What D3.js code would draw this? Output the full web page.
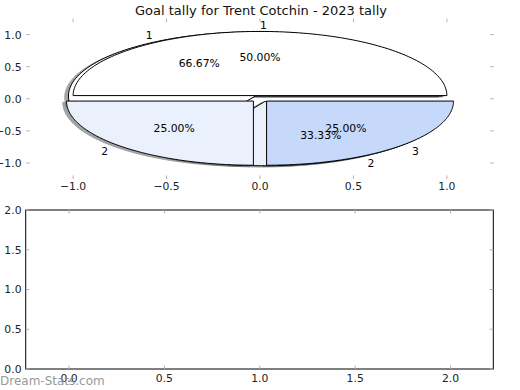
<!DOCTYPE html>
<html>
<head>
<meta charset="utf-8">
<script src="https://cdn.jsdelivr.net/npm/d3@7"></script>
<style>
  html, body { margin: 0; padding: 0; background: #ffffff; }
  svg { display: block; }
  text { font-family: "DejaVu Sans", sans-serif; }
</style>
</head>
<body>
<script>
// ---------------- data ----------------
const title = "Goal tally for Trent Cotchin - 2023 tally";
const pie1Labels = ["1", "2"];
const pie1Values = [2, 1];
const pie1Colors = ["#ffffff", "#eaf1fd"];
const pie2Labels = ["1", "2", "3"];
const pie2Values = [2, 1, 1];
const pie2Colors = ["#ffffff", "#eaf1fd", "#c6d9fb"];
const explodeAmount = 0.05;
const topTicks = [-1.0, -0.5, 0.0, 0.5, 1.0];
const bottomXTicks = [0.0, 0.5, 1.0, 1.5, 2.0];
const bottomYTicks = [0.0, 0.5, 1.0, 1.5, 2.0];
const watermark = "Dream-Stats.com";

// ---------------- layout ----------------
const W = 520, H = 390;
const svg = d3.select("body").append("svg").attr("width", W).attr("height", H);
const FS = 10.8;

// top (pie) axes
const topBox = { left: 26.4, right: 493.6, top: 18.6, bottom: 179.0 };
const x1 = d3.scaleLinear().domain([-1.25, 1.25]).range([topBox.left, topBox.right]);
const y1 = d3.scaleLinear().domain([-1.25, 1.25]).range([topBox.bottom, topBox.top]);

// bottom axes
const botBox = { left: 25.7, right: 493.3, top: 210, bottom: 369 };
const x2 = d3.scaleLinear().domain([-0.227, 2.224]).range([botBox.left, botBox.right]);
const y2 = d3.scaleLinear().domain([0, 2]).range([botBox.bottom, botBox.top]);

const tickColor = "#b0b0b0";
const labelColor = "#222";

// title
svg.append("text").attr("x", 261).attr("y", 15).attr("text-anchor", "middle")
  .attr("font-size", 13).attr("fill", "#111").text(title);

// ---------- pie helpers (matplotlib conventions: CCW from +x) ----------
function buildWedges(values, labels, colors) {
  const arcs = d3.pie().sort(null).startAngle(0).endAngle(2 * Math.PI)(values);
  const total = d3.sum(values);
  return arcs.map((a, i) => {
    const t1 = a.startAngle, t2 = a.endAngle;
    const tm = (t1 + t2) / 2;
    const cx = explodeAmount * Math.cos(tm), cy = explodeAmount * Math.sin(tm);
    return { t1, t2, tm, cx, cy, color: colors[i], label: labels[i],
             pct: (100 * values[i] / total).toFixed(2) + "%" };
  });
}
function wedgePath(w, ox, oy) {
  const pts = [[w.cx + ox, w.cy + oy]];
  const n = 120;
  for (let k = 0; k <= n; k++) {
    const t = w.t1 + (w.t2 - w.t1) * k / n;
    pts.push([w.cx + ox + Math.cos(t), w.cy + oy + Math.sin(t)]);
  }
  return d3.line().x(d => x1(d[0])).y(d => y1(d[1]))(pts) + "Z";
}

const pies = [
  buildWedges(pie1Values, pie1Labels, pie1Colors),
  buildWedges(pie2Values, pie2Labels, pie2Colors)
];

const gPie = svg.append("g");
// shadows (below all wedges)
pies.forEach(ws => ws.forEach(w => {
  const c = d3.rgb(w.color);
  const sc = `rgb(${0.3 * c.r},${0.3 * c.g},${0.3 * c.b})`;
  gPie.append("path").attr("d", wedgePath(w, -0.02, -0.02))
    .attr("fill", sc).attr("stroke", sc).attr("stroke-width", 1)
    .attr("opacity", 0.5);
}));
// wedges
pies.forEach(ws => ws.forEach(w => {
  gPie.append("path").attr("d", wedgePath(w, 0, 0))
    .attr("fill", w.color).attr("stroke", "#000").attr("stroke-width", 1)
    .attr("stroke-linejoin", "miter");
}));
// texts
pies.forEach(ws => ws.forEach(w => {
  const xt = w.cx + 1.1 * Math.cos(w.tm), yt = w.cy + 1.1 * Math.sin(w.tm);
  svg.append("text").attr("x", x1(xt)).attr("y", y1(yt) + 3.9)
    .attr("text-anchor", xt > 0 ? "start" : "end")
    .attr("font-size", FS).attr("fill", "#000").text(w.label);
  const xp = w.cx + 0.6 * Math.cos(w.tm), yp = w.cy + 0.6 * Math.sin(w.tm);
  svg.append("text").attr("x", x1(xp)).attr("y", y1(yp) + 3.9)
    .attr("text-anchor", "middle")
    .attr("font-size", FS).attr("fill", "#000").text(w.pct);
}));

// ---------- top axes ticks (no frame) ----------
const fmt = d3.format(".1f");
const minusFmt = v => fmt(v).replace("-", "\u2212");
const tl = 3.5;
topTicks.forEach(v => {
  svg.append("line").attr("x1", x1(v)).attr("x2", x1(v))
    .attr("y1", topBox.bottom).attr("y2", topBox.bottom - tl).attr("stroke", tickColor);
  svg.append("line").attr("x1", x1(v)).attr("x2", x1(v))
    .attr("y1", topBox.top).attr("y2", topBox.top + tl).attr("stroke", tickColor);
  svg.append("text").attr("x", x1(v)).attr("y", 190).attr("text-anchor", "middle")
    .attr("font-size", FS).attr("fill", labelColor).text(minusFmt(v));
  svg.append("line").attr("y1", y1(v)).attr("y2", y1(v))
    .attr("x1", topBox.left).attr("x2", topBox.left + tl).attr("stroke", tickColor);
  svg.append("line").attr("y1", y1(v)).attr("y2", y1(v))
    .attr("x1", topBox.right).attr("x2", topBox.right - tl).attr("stroke", tickColor);
  svg.append("text").attr("x", 21.5).attr("y", y1(v) + 3.9).attr("text-anchor", "end")
    .attr("font-size", FS).attr("fill", labelColor).text(minusFmt(v));
});

// ---------- bottom axes ----------
svg.append("rect").attr("x", botBox.left).attr("y", botBox.top)
  .attr("width", botBox.right - botBox.left).attr("height", botBox.bottom - botBox.top)
  .attr("fill", "none").attr("stroke", "#000").attr("stroke-width", 1);
bottomXTicks.forEach(v => {
  svg.append("line").attr("x1", x2(v)).attr("x2", x2(v))
    .attr("y1", botBox.bottom).attr("y2", botBox.bottom - tl).attr("stroke", tickColor);
  svg.append("line").attr("x1", x2(v)).attr("x2", x2(v))
    .attr("y1", botBox.top).attr("y2", botBox.top + tl).attr("stroke", tickColor);
  svg.append("text").attr("x", x2(v)).attr("y", 382).attr("text-anchor", "middle")
    .attr("font-size", FS).attr("fill", labelColor).text(fmt(v));
});
bottomYTicks.forEach(v => {
  svg.append("line").attr("y1", y2(v)).attr("y2", y2(v))
    .attr("x1", botBox.left).attr("x2", botBox.left + tl).attr("stroke", tickColor);
  svg.append("line").attr("y1", y2(v)).attr("y2", y2(v))
    .attr("x1", botBox.right).attr("x2", botBox.right - tl).attr("stroke", tickColor);
  svg.append("text").attr("x", 21.5).attr("y", y2(v) + 3.9).attr("text-anchor", "end")
    .attr("font-size", FS).attr("fill", labelColor).text(fmt(v));
});

// watermark
svg.append("text").attr("x", 0).attr("y", 384.5).attr("font-size", 12)
  .attr("fill", "#888").attr("opacity", 0.85).text(watermark);
</script>
</body>
</html>
